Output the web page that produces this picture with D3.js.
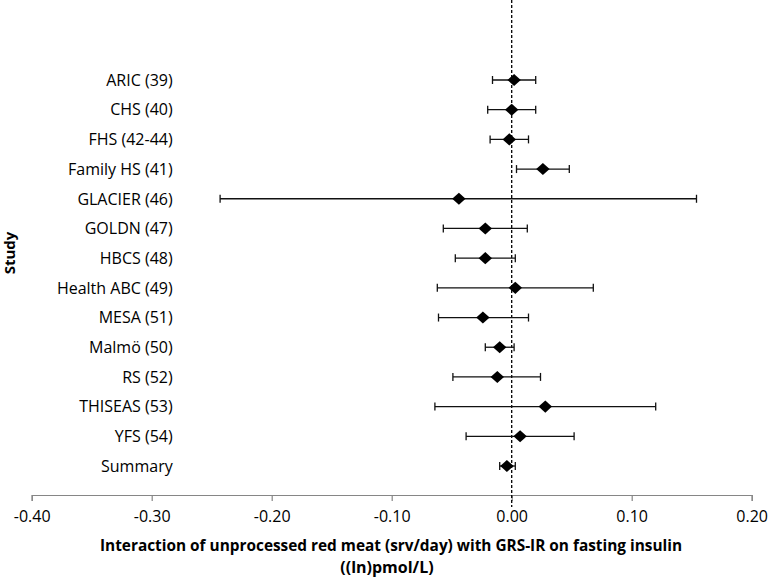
<!DOCTYPE html>
<html>
<head>
<meta charset="utf-8">
<script src="https://d3js.org/d3.v7.min.js"></script>
<style>
  body { margin: 0; background: #fff; }
  text { font-family: "Open Sans", sans-serif; fill: #000; }
</style>
</head>
<body>
<div class="forest"></div>
<script>
// Study labels and estimates (lower CI, point, upper CI)
var studies = ["ARIC (39)", "CHS (40)", "FHS (42-44)", "Family HS (41)", "GLACIER (46)", "GOLDN (47)",
    "HBCS (48)", "Health ABC (49)", "MESA (51)", "Malmö (50)", "RS (52)", "THISEAS (53)", "YFS (54)", "Summary"];
var estimates = [0.002, 0.000, -0.002, 0.026, -0.044, -0.022, -0.022, 0.003, -0.024, -0.010, -0.012, 0.028, 0.007, -0.004];
var lower = [-0.016, -0.020, -0.018, 0.004, -0.243, -0.057, -0.047, -0.062, -0.061, -0.022, -0.049, -0.064, -0.038, -0.010];
var upper = [0.020, 0.020, 0.014, 0.048, 0.154, 0.013, 0.003, 0.068, 0.014, 0.002, 0.024, 0.120, 0.052, 0.003];
var xTicks = [-0.40, -0.30, -0.20, -0.10, 0.00, 0.10, 0.20];

var width = 768,
    height = 577;

var datos = studies.map(function(s, i) {
    return { study: s, est: estimates[i], lo: lower[i], hi: upper[i] };
});

var svg = d3.select('.forest')
    .append('svg')
    .attr("width", width)
    .attr("height", height);

var xRange = d3.scaleLinear()
    .domain([-0.40, 0.20])
    .range([31.7, 751.7]);

var yRange = d3.scalePoint()
    .domain(studies)
    .range([80, 466]);

var axisY = 495;

// x axis (plain hyphen for negatives, like the original)
var xAxis = d3.axisBottom()
    .scale(xRange)
    .tickValues(xTicks)
    .tickFormat(function(d) { return d.toFixed(2); })
    .tickSizeInner(6)
    .tickSizeOuter(6);

var gx = svg.append("g")
    .attr("class", "xAxis")
    .attr("transform", "translate(0," + axisY + ")")
    .call(xAxis);

gx.select(".domain").attr("stroke", "#868686").attr("stroke-width", 1.2);
gx.selectAll(".tick line").attr("stroke", "#868686").attr("stroke-width", 1.2);
gx.selectAll(".tick text")
    .attr("y", 16)
    .attr("dy", "0.71em")
    .style("font-size", "16px")
    .style("font-family", "'Open Sans', sans-serif")
    .attr("fill", "#000");

// reference line at zero
svg.append("line")
    .attr("x1", xRange(0))
    .attr("x2", xRange(0))
    .attr("y1", 0)
    .attr("y2", axisY + 12)
    .attr("stroke", "#000")
    .attr("stroke-width", 1.3)
    .attr("stroke-dasharray", "3,2");

// study labels
svg.selectAll(".label")
    .data(datos)
    .enter()
    .append("text")
    .attr("class", "label")
    .attr("x", 172.7)
    .attr("y", function(d) { return yRange(d.study); })
    .attr("dy", "0.36em")
    .attr("text-anchor", "end")
    .style("font-size", "16px")
    .text(function(d) { return d.study; });

// error bars
var bars = svg.selectAll(".ci")
    .data(datos)
    .enter()
    .append("g")
    .attr("class", "ci")
    .attr("stroke", "#111")
    .attr("stroke-width", 1.3);

bars.append("line")
    .attr("x1", function(d) { return xRange(d.lo); })
    .attr("x2", function(d) { return xRange(d.hi); })
    .attr("y1", function(d) { return yRange(d.study); })
    .attr("y2", function(d) { return yRange(d.study); });

bars.append("line")
    .attr("x1", function(d) { return xRange(d.lo); })
    .attr("x2", function(d) { return xRange(d.lo); })
    .attr("y1", function(d) { return yRange(d.study) - 4; })
    .attr("y2", function(d) { return yRange(d.study) + 4; });

bars.append("line")
    .attr("x1", function(d) { return xRange(d.hi); })
    .attr("x2", function(d) { return xRange(d.hi); })
    .attr("y1", function(d) { return yRange(d.study) - 4; })
    .attr("y2", function(d) { return yRange(d.study) + 4; });

// diamonds
svg.selectAll(".punto")
    .data(datos)
    .enter()
    .append("path")
    .attr("class", "punto")
    .attr("d", d3.symbol().type(d3.symbolSquare).size(90))
    .attr("fill", "#000")
    .attr("transform", function(d) {
        return "translate(" + xRange(d.est) + "," + yRange(d.study) + ") scale(1,0.9) rotate(45)";
    });

// axis titles
var xt = svg.append("text")
    .attr("text-anchor", "middle")
    .style("font-size", "16px")
    .style("font-weight", "bold");

xt.append("tspan")
    .attr("x", 391)
    .attr("y", 551)
    .attr("textLength", 582)
    .attr("lengthAdjust", "spacingAndGlyphs")
    .text("Interaction of unprocessed red meat (srv/day) with GRS-IR on fasting insulin");

xt.append("tspan")
    .attr("x", 387)
    .attr("y", 573)
    .text("((ln)pmol/L)");

svg.append("text")
    .attr("transform", "translate(15,253) rotate(-90)")
    .attr("text-anchor", "middle")
    .style("font-size", "15px")
    .style("font-weight", "bold")
    .text("Study");
</script>
</body>
</html>
